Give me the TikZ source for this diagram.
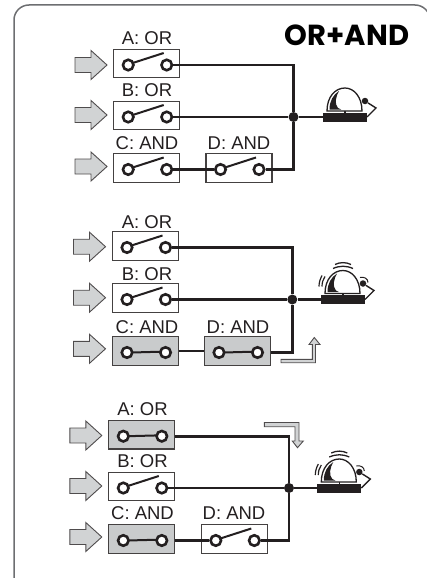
\documentclass[tikz,border=0pt]{standalone}
\usepackage{fontspec}
\setmainfont{Liberation Sans}
\newfontfamily\titlefont{Poppins}
\definecolor{inkdark}{HTML}{231F20}
\definecolor{boxgrey}{HTML}{C9CBCC}
\definecolor{arrowgrey}{HTML}{D1D3D4}
\definecolor{framegrey}{HTML}{6D6E71}
\tikzset{
    wire/.style={draw=inkdark, line width=2.6pt},
    swlabel/.style={inner sep=0pt, font=\fontsize{18.5}{18.5}\selectfont, text=inkdark},
    swbox/.style={draw=inkdark!85, line width=1.1pt, minimum width=66pt, minimum height=28.5pt, inner sep=0pt},
    contact/.style={circle, draw=inkdark, fill=white, line width=2.6pt, minimum size=10.5pt, inner sep=0pt},
    junction/.style={circle, fill=inkdark, minimum size=10pt, inner sep=0pt},
    flatarrow/.style={draw=inkdark!80, fill=arrowgrey, line width=0.9pt},
    openswitch/.pic={
        \node[swbox] (-box) at (0,0) {};
        \draw[inkdark, line width=2pt] (-14,-0.5) -- (17,-10.5);
        \node[contact] (-l) at (-18.5,1.5) {};
        \node[contact] (-r) at (20,1.5) {};
    },
    closedswitch/.pic={
        \node[swbox, fill=boxgrey] (-box) at (0,0) {};
        \draw[inkdark, line width=2pt] (-14,1.5) -- (16,0.7);
        \node[contact] (-l) at (-18.5,1.5) {};
        \node[contact] (-r) at (20,1.5) {};
    },
    sidearrow/.pic={
        \draw[flatarrow] (-16,-7.5) -- (0,-7.5) -- (0,-14.5) -- (16,0) -- (0,14.5) -- (0,7.5) -- (-16,7.5) -- cycle;
    },
    bell/.pic={
        \node[fill=inkdark, minimum width=44pt, minimum height=9pt, inner sep=0pt] (-base) at (0,0) {};
        \draw[inkdark, line width=1.3pt] (0,-6) -- (0,-3);
        \draw[inkdark, fill=white, line width=1.3pt] (-18,-6) .. controls (-18,-20) and (-10,-29) .. (0,-29) .. controls (9,-29) and (17,-20) .. (17,-6) -- cycle;
        \fill[inkdark] (-15.5,-7.5) .. controls (-15.5,-16) and (-12,-22) .. (-6,-26) .. controls (-9,-21) and (-11,-13) .. (-7,-9) -- (-4,-7.5) -- cycle;
        \node[circle, fill=inkdark, minimum size=6.5pt, inner sep=0pt] (-ball) at (20,-16) {};
        \draw[inkdark, line width=1.4pt] (-ball) -- (31,-9) -- (22,0);
    },
    ringing/.pic={
        \draw[inkdark, line width=1.3pt] (-8,-35) .. controls (-3,-37.5) and (3,-37.5) .. (8,-35);
        \draw[inkdark, line width=1.3pt] (-10,-31) .. controls (-3,-34) and (3,-34) .. (10,-31);
        \draw[inkdark, line width=1.2pt] (-21,-24) .. controls (-23,-20) and (-24,-17) .. (-24,-13);
        \draw[inkdark, line width=1.2pt] (-18,-23) .. controls (-20,-20) and (-21,-17) .. (-21,-13);
        \draw[inkdark, line width=1pt] (17,-22) .. controls (21,-23) and (25,-21) .. (25,-17);
    },
}

\begin{document}
\begin{tikzpicture}[x=1pt, y=-1pt]
    \path[use as bounding box, clip] (0,0) rectangle (427,578);
    \draw[framegrey, line width=1.5pt, rounded corners=15pt] (14,5) rectangle (430,592);

    \node[inner sep=0pt] (title) at (347,35.5) {\titlefont\fontsize{29}{29}\selectfont\bfseries OR+AND};

    % first group
    \pic at (91,65) {sidearrow};
    \pic at (91,115) {sidearrow};
    \pic at (91,166.5) {sidearrow};
    \pic (p1a) at (146.7,63.5) {openswitch};
    \pic (p1b) at (146.7,115.5) {openswitch};
    \pic (p1c) at (146.7,168) {openswitch};
    \pic (p1d) at (239,168) {openswitch};
    \node[swlabel] (p1alab) at (147,38) {A: OR};
    \node[swlabel] (p1blab) at (147,90.5) {B: OR};
    \node[swlabel] (p1clab) at (147,143) {C: AND};
    \node[swlabel] (p1dlab) at (239,143) {D: AND};
    \node[junction] (j1) at (293.5,117) {};
    \pic (b1) at (345,117) {bell};
    \draw[wire] (p1a-r) -| (j1);
    \draw[wire] (p1b-r) -- (j1);
    \draw[wire] (p1c-r) -- (p1d-l);
    \draw[wire] (p1d-r) -| (j1);
    \draw[wire] (j1) -- (b1-base);

    % second group
    \pic at (89.5,246.7) {sidearrow};
    \pic at (89.5,297.7) {sidearrow};
    \pic at (89.5,348.8) {sidearrow};
    \pic (p2a) at (145.5,246) {openswitch};
    \pic (p2b) at (145.5,298) {openswitch};
    \pic (p2c) at (145.5,351) {closedswitch};
    \pic (p2d) at (237.5,351) {closedswitch};
    \node[swlabel] (p2alab) at (147,222) {A: OR};
    \node[swlabel] (p2blab) at (147,274) {B: OR};
    \node[swlabel] (p2clab) at (147,327) {C: AND};
    \node[swlabel] (p2dlab) at (238,327) {D: AND};
    \node[junction] (j2) at (292.3,299.5) {};
    \pic (b2) at (343,299.5) {bell};
    \pic at (343,299.5) {ringing};
    \draw[wire] (p2a-r) -| (j2);
    \draw[wire] (p2b-r) -- (j2);
    \draw[wire] (p2c-box) -- (p2d-box);
    \draw[wire] (p2d-box.east |- p2d-r) -| (j2);
    \draw[wire] (j2) -- (b2-base);
    \draw[flatarrow] (281,359.3) -- (312.3,359.3) -- (312.3,344.5) -- (309,344.5) -- (314.3,337.5) -- (320,344.5) -- (315.5,344.5) -- (315.5,362.7) -- (281,362.7) -- cycle;

    % third group
    \pic at (85.8,435.5) {sidearrow};
    \pic at (85.8,486) {sidearrow};
    \pic at (85.8,537) {sidearrow};
    \pic (p3a) at (141.8,434.7) {closedswitch};
    \pic (p3b) at (141.8,486.5) {openswitch};
    \pic (p3c) at (141.8,539) {closedswitch};
    \pic (p3d) at (234.3,539) {openswitch};
    \node[swlabel] (p3alab) at (142.5,409) {A: OR};
    \node[swlabel] (p3blab) at (142.5,461) {B: OR};
    \node[swlabel] (p3clab) at (142.5,513) {C: AND};
    \node[swlabel] (p3dlab) at (234,513) {D: AND};
    \node[junction] (j3) at (289,488) {};
    \pic (b3) at (339.3,488) {bell};
    \pic at (339.3,488) {ringing};
    \draw[wire] (p3a-box.east |- p3a-r) -| (j3);
    \draw[wire] (p3b-r) -- (j3);
    \draw[wire] (p3c-box.east |- p3c-r) -- (p3d-l);
    \draw[wire] (p3d-r) -| (j3);
    \draw[wire] (j3) -- (b3-base);
    \draw[flatarrow] (264.3,422.5) -- (299,422.5) -- (299,441) -- (303.3,441) -- (297.5,447.7) -- (292.3,441) -- (295,441) -- (295,426.7) -- (264.3,426.7) -- cycle;
\end{tikzpicture}
\end{document}
